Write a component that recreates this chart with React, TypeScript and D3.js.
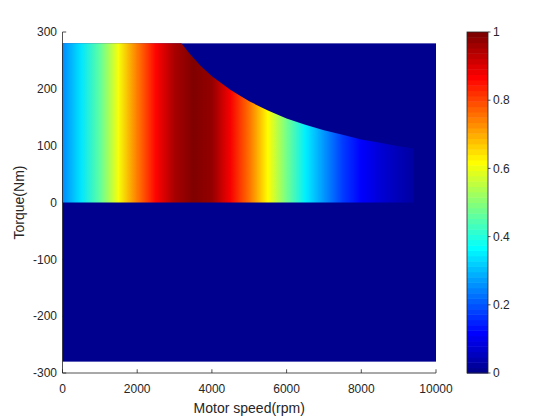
import React from "react";
import * as d3 from "d3";

const width = 560;
const height = 420;
const margin = { top: 32, right: 124, bottom: 47, left: 62.5 };

// axis ticks
const xTicks = [0, 2000, 4000, 6000, 8000, 10000];
const yTicks = [-300, -200, -100, 0, 100, 200, 300];
const cTicks = [0, 0.2, 0.4, 0.6, 0.8, 1];

// map extent (rpm, Nm)
const mapSpeed = [0, 10000];
const mapTorque = [-280, 280];

// efficiency-like value along the speed axis
const effSpeed = [0, 500, 1000, 1500, 2000, 2500, 3000, 3500, 4000, 4500, 5000, 5500, 6000, 6500, 7000, 7500, 8000, 8500, 9000, 9400];
const effValue = [0.25, 0.34, 0.46, 0.61, 0.75, 0.87, 0.96, 1.0, 0.98, 0.88, 0.76, 0.62, 0.48, 0.35, 0.26, 0.17, 0.11, 0.07, 0.04, 0.02];

// max torque envelope
const limitSpeed = [0, 3180, 3400, 3700, 4000, 4500, 5000, 5500, 6000, 6500, 7000, 7500, 8000, 8500, 9000, 9400];
const limitTorque = [280, 280, 262, 240, 222, 198, 178, 162, 148, 137, 127, 119, 111, 105, 99, 95];

const jet = d3
  .scaleLinear<string>()
  .domain([0, 0.111, 0.365, 0.619, 0.873, 1])
  .range(["#00008f", "#0000ff", "#00ffff", "#ffff00", "#ff0000", "#800000"])
  .clamp(true);

const axisColor = "#262626";
const font = "'Liberation Sans', Arial, Helvetica, sans-serif";

export default function App() {
  const x = d3.scaleLinear().domain([0, 10000]).range([margin.left, 436]);
  const y = d3.scaleLinear().domain([-300, 300]).range([373, margin.top]);

  const cbX = 467;
  const cbW = 21;
  const c = d3.scaleLinear().domain([0, 1]).range([373, margin.top]);
  const nColors = 64;
  const bands = d3.range(nColors);

  const envelope = limitSpeed.map((s, i) => [s, limitTorque[i]] as [number, number]);
  const area = d3
    .area<[number, number]>()
    .x((d) => x(d[0]))
    .y0(() => y(0))
    .y1((d) => y(d[1]));

  const gradEnd = effSpeed[effSpeed.length - 1];

  return (
    <div style={{ position: "absolute", left: 0, top: 0 }}>
      <svg width={width} height={height} style={{ display: "block", background: "#fff" }}>
        <defs>
          <linearGradient
            id="effGrad"
            gradientUnits="userSpaceOnUse"
            x1={x(0)}
            x2={x(gradEnd)}
            y1={0}
            y2={0}
          >
            {effSpeed.map((s, i) => (
              <stop key={i} offset={s / gradEnd} stopColor={jet(effValue[i])} />
            ))}
          </linearGradient>
        </defs>

        {/* ticks (under the image, like MATLAB) */}
        {xTicks.map((t) => (
          <line key={"xt" + t} x1={x(t)} x2={x(t)} y1={373} y2={369.3} stroke={axisColor} strokeWidth={0.8} />
        ))}
        {yTicks.map((t) => (
          <line key={"yt" + t} x1={margin.left} x2={margin.left + 3.7} y1={y(t)} y2={y(t)} stroke={axisColor} strokeWidth={0.8} />
        ))}

        {/* image */}
        <rect
          x={x(mapSpeed[0])}
          y={y(mapTorque[1])}
          width={x(mapSpeed[1]) - x(mapSpeed[0])}
          height={y(mapTorque[0]) - y(mapTorque[1])}
          fill={jet(0)}
        />
        <path d={area(envelope) || ""} fill="url(#effGrad)" />

        {/* axes lines */}
        <line x1={margin.left} x2={margin.left} y1={margin.top} y2={373} stroke={axisColor} strokeWidth={0.8} />
        <line x1={margin.left} x2={436} y1={373} y2={373} stroke={axisColor} strokeWidth={0.8} />

        {/* tick labels */}
        {xTicks.map((t) => (
          <text key={"xl" + t} x={x(t)} y={393} textAnchor="middle" fontFamily={font} fontSize={12} fill={axisColor}>
            {t}
          </text>
        ))}
        {yTicks.map((t) => (
          <text key={"yl" + t} x={57} y={y(t)} dy="0.35em" textAnchor="end" fontFamily={font} fontSize={12} fill={axisColor}>
            {t}
          </text>
        ))}

        {/* axis labels */}
        <text x={(x(0) + x(10000)) / 2} y={413} textAnchor="middle" fontFamily={font} fontSize={14} fill={axisColor}>
          Motor speed(rpm)
        </text>
        <text
          transform={`translate(24,${y(0)}) rotate(-90)`}
          textAnchor="middle"
          fontFamily={font}
          fontSize={14}
          fill={axisColor}
        >
          Torque(Nm)
        </text>

        {/* colorbar */}
        {bands.map((i) => (
          <rect
            key={"cb" + i}
            x={cbX}
            y={c((i + 1) / nColors)}
            width={cbW}
            height={c(i / nColors) - c((i + 1) / nColors) + 0.5}
            fill={jet(i / (nColors - 1))}
          />
        ))}
        <rect x={cbX} y={margin.top} width={cbW} height={373 - margin.top} fill="none" stroke={axisColor} strokeWidth={0.8} />
        {cTicks.map((t) => (
          <g key={"ct" + t}>
            <line x1={cbX + cbW} x2={cbX + cbW + 2.5} y1={c(t)} y2={c(t)} stroke={axisColor} strokeWidth={0.8} />
            <text x={493} y={c(t)} dy="0.35em" fontFamily={font} fontSize={12} fill={axisColor}>
              {t}
            </text>
          </g>
        ))}
      </svg>
    </div>
  );
}
